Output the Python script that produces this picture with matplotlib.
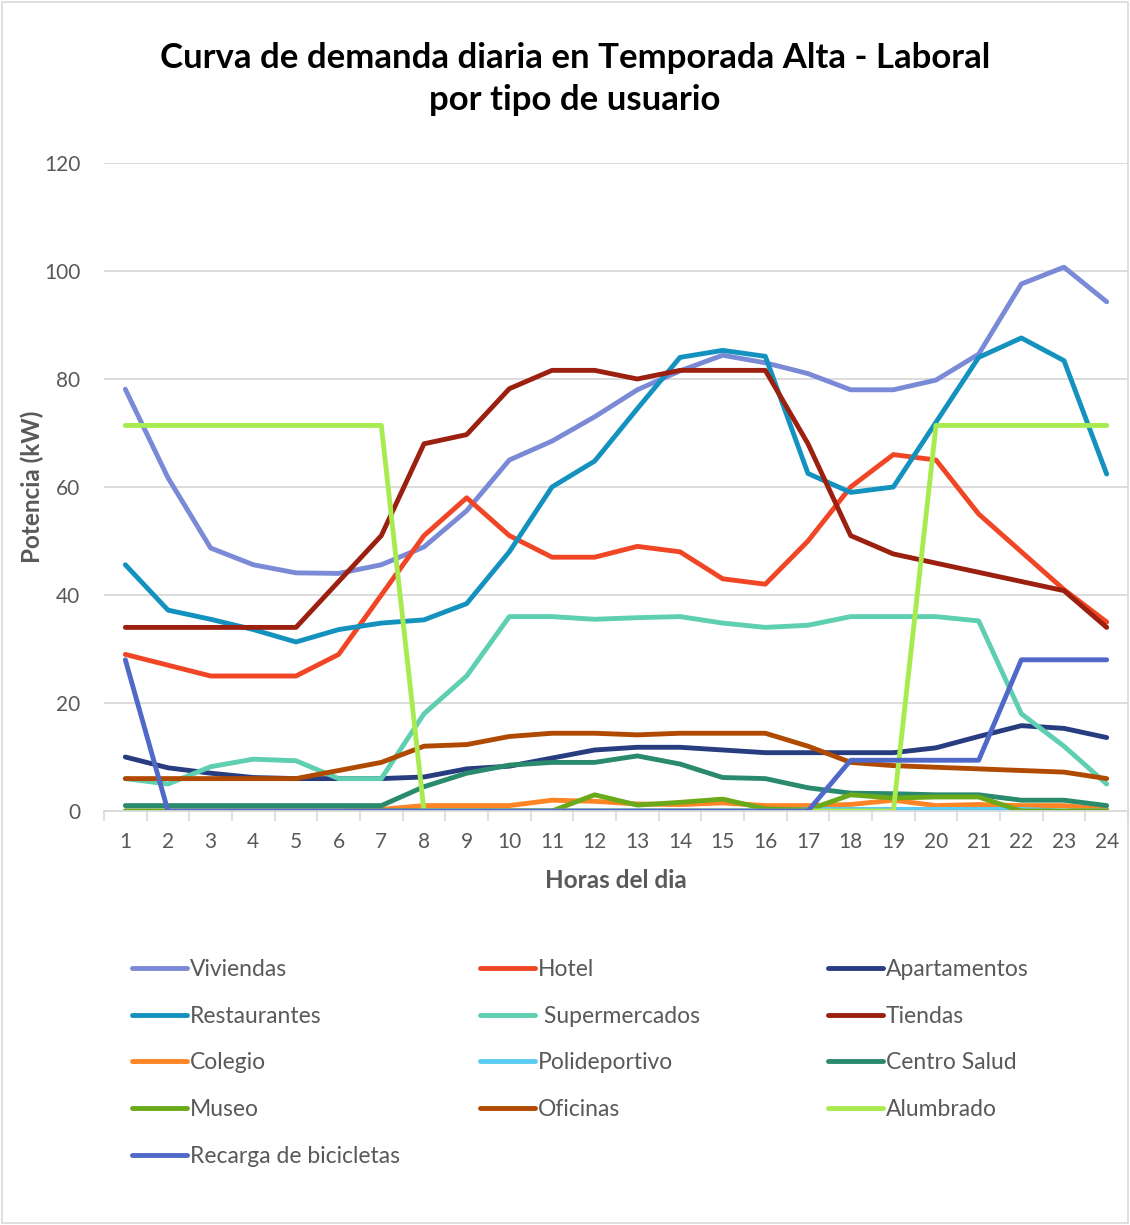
import matplotlib.pyplot as plt
import numpy as np

plt.rcParams["font.family"] = ["Lato", "DejaVu Sans"]

horas = list(range(1, 25))

viviendas = [78.1, 61.7, 48.7, 45.6, 44.1, 44.0, 45.6, 48.9, 55.6, 65.0, 68.5, 73.0,
             78.0, 81.5, 84.4, 83.0, 81.0, 78.0, 78.0, 79.8, 84.6, 97.6, 100.7, 94.3]
hotel = [29, 27, 25, 25, 25, 29, 40, 51, 58, 51, 47, 47,
         49, 48, 43, 42, 50, 60, 66, 65, 55, 48, 41, 35]
apartamentos = [10, 8, 7, 6.2, 6, 6, 6, 6.3, 7.8, 8.3, 9.8, 11.3,
                11.8, 11.8, 11.3, 10.8, 10.8, 10.8, 10.8, 11.7, 13.8, 15.8, 15.3, 13.6]
restaurantes = [45.6, 37.2, 35.5, 33.6, 31.3, 33.6, 34.8, 35.4, 38.4, 48, 60, 64.8,
                74.5, 84, 85.3, 84.2, 62.5, 59, 60, 72, 84, 87.6, 83.4, 62.4]
supermercados = [6, 5, 8.2, 9.6, 9.3, 6, 6, 18, 25, 36, 36, 35.5,
                 35.8, 36, 34.8, 34, 34.4, 36, 36, 36, 35.2, 18, 12, 5]
tiendas = [34, 34, 34, 34, 34, 42.5, 51, 68, 69.7, 78.2, 81.6, 81.6,
           80, 81.6, 81.6, 81.6, 68, 51, 47.6, 45.9, 44.2, 42.5, 40.8, 34]
colegio = [0, 0, 0, 0, 0, 0, 0.3, 1, 1, 1, 2, 1.8,
           1.3, 1.2, 1.5, 1, 1, 1.2, 2, 1, 1.2, 1, 1, 0.3]
polideportivo = [0, 0, 0, 0, 0, 0, 0, 0, 0, 0, 0, 0,
                 0, 0, 0, 0, 0.3, 0.3, 0.3, 0.3, 0.3, 0.3, 0, 0]
centro_salud = [1, 1, 1, 1, 1, 1, 1, 4.5, 7, 8.5, 9, 9,
                10.2, 8.7, 6.2, 6, 4.3, 3.3, 3.2, 3, 3, 2, 2, 1]
museo = [0, 0, 0, 0, 0, 0, 0, 0, 0, 0, 0, 3,
         1.1, 1.6, 2.2, 0.4, 0.2, 3, 2.4, 2.6, 2.6, 0, 0, 0]
oficinas = [6, 6, 6, 6, 6, 7.5, 9, 12, 12.3, 13.8, 14.4, 14.4,
            14.1, 14.4, 14.4, 14.4, 12, 9, 8.4, 8.1, 7.8, 7.5, 7.2, 6]
alumbrado = [71.4, 71.4, 71.4, 71.4, 71.4, 71.4, 71.4, 0, 0, 0, 0, 0,
             0, 0, 0, 0, 0, 0, 0, 71.4, 71.4, 71.4, 71.4, 71.4]
recarga = [28, 0, 0, 0, 0, 0, 0, 0, 0, 0, 0, 0,
           0, 0, 0, 0, 0, 9.4, 9.4, 9.4, 9.4, 28, 28, 28]

series = [
    ("Viviendas", viviendas, "#7A8AD6"),
    ("Hotel", hotel, "#F04626"),
    ("Apartamentos", apartamentos, "#283C80"),
    ("Restaurantes", restaurantes, "#1492BF"),
    (" Supermercados", supermercados, "#5ECFB0"),
    ("Tiendas", tiendas, "#9C2010"),
    ("Colegio", colegio, "#FF8424"),
    ("Polideportivo", polideportivo, "#5BCBF0"),
    ("Centro Salud", centro_salud, "#2A8A6E"),
    ("Museo", museo, "#6AAA1A"),
    ("Oficinas", oficinas, "#B04A00"),
    ("Alumbrado", alumbrado, "#A8EB50"),
    ("Recarga de bicicletas", recarga, "#5068C8"),
]

fig = plt.figure(figsize=(11.3, 12.25), dpi=100)
ax = fig.add_axes([104 / 1130, 1 - 811 / 1225, (1128 - 104) / 1130, (811 - 163) / 1225])

handles = []
for name, vals, color in series:
    h, = ax.plot(horas, vals, color=color, lw=3.5, solid_capstyle="round",
                 solid_joinstyle="round", label=name)
    handles.append(h)

ax.set_xlim(0.5, 24.5)
ax.set_ylim(0, 120)
ax.set_yticks(np.arange(0, 121, 20))
ax.set_xticks(horas)
ax.set_xticks(np.arange(0.5, 25, 1), minor=True)
ax.tick_params(axis="x", which="major", length=0, pad=15, labelsize=15, labelcolor="#595959")
ax.tick_params(axis="x", which="minor", length=7, color="#D9D9D9", width=1.2)
ax.tick_params(axis="y", length=0, pad=17, labelsize=15, labelcolor="#595959")
ax.grid(axis="y", color="#D9D9D9", lw=1.3)
ax.set_axisbelow(True)
for s in ["top", "right", "left"]:
    ax.spines[s].set_visible(False)
ax.spines["bottom"].set_color("#D9D9D9")
ax.spines["bottom"].set_linewidth(1.3)

ax.set_xlabel("Horas del dia", fontsize=17.5, fontweight="bold", color="#595959", labelpad=12)
ax.set_ylabel("Potencia (kW)", fontsize=17.5, fontweight="bold", color="#595959", labelpad=0)

fig.text(0.509, 1 - 79 / 1225, "Curva de demanda diaria en Temporada Alta - Laboral\npor tipo de usuario",
         ha="center", va="center", fontsize=25, fontweight="bold", color="black", linespacing=1.42)

# legend in three columns, row-major order like Excel
cols = [handles[0::3], handles[1::3], handles[2::3]]
xs = [132 / 1130, 480 / 1130, 828 / 1130]
for hs, x in zip(cols, xs):
    leg = fig.legend(handles=hs, loc="upper left", bbox_to_anchor=(x, 1 - 959 / 1225),
                     frameon=False, fontsize=16.5, handlelength=2.4, handletextpad=0.12,
                     labelspacing=1.12, borderpad=0, borderaxespad=0)
    for t in leg.get_texts():
        t.set_color("#595959")

# outer frame
fig.patches.append(plt.Rectangle((0.002, 0.002), 0.996, 0.996, transform=fig.transFigure,
                                 fill=False, edgecolor="#D9D9D9", lw=1.2))

fig.savefig("out.png", dpi=100)
